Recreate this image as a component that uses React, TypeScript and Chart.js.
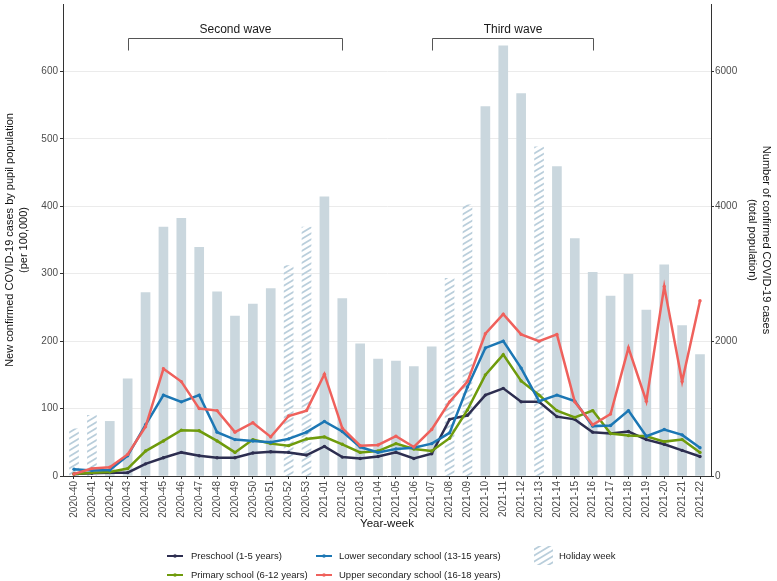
import { useEffect, useRef } from 'react';
import { Chart, registerables } from 'chart.js';
Chart.register(...registerables);

const weeks = [
  '2020-40', '2020-41', '2020-42', '2020-43', '2020-44', '2020-45', '2020-46', '2020-47', '2020-48',
  '2020-49', '2020-50', '2020-51', '2020-52', '2020-53', '2021-01', '2021-02', '2021-03', '2021-04',
  '2021-05', '2021-06', '2021-07', '2021-08', '2021-09', '2021-10', '2021-11', '2021-12', '2021-13',
  '2021-14', '2021-15', '2021-16', '2021-17', '2021-18', '2021-19', '2021-20', '2021-21', '2021-22',
];
const holidayWeeks = ['2020-40', '2020-41', '2020-52', '2020-53', '2021-08', '2021-09', '2021-13'];

const totalCases = [
  700, 900, 810, 1440, 2720, 3690, 3820, 3390, 2730, 2370, 2550, 2780, 3120, 3690, 4140, 2630, 1960, 1735,
  1706, 1622, 1916, 2930, 4020, 5480, 6380, 5670, 4880, 4590, 3520, 3020, 2670, 2990, 2460, 3130, 2230, 1800,
];
const preschool = [
  3, 4, 5, 5, 18, 27, 35, 30, 27, 27, 34, 36, 35, 31, 44, 28, 26, 29,
  35, 26, 33, 84, 90, 120, 130, 110, 110, 88, 84, 65, 63, 66, 54, 47, 38, 29,
];
const primary = [
  3, 5, 6, 11, 37, 52, 68, 67, 52, 35, 54, 48, 45, 55, 58, 47, 35, 37,
  48, 40, 37, 56, 98, 150, 180, 141, 120, 97, 87, 97, 63, 60, 59, 51, 54, 35,
];
const lowerSecondary = [
  10, 8, 9, 30, 76, 120, 110, 120, 65, 54, 52, 50, 55, 65, 81, 66, 43, 35,
  40, 42, 48, 64, 132, 190, 200, 160, 111, 120, 111, 74, 75, 97, 59, 69, 61, 42,
];
const upperSecondary = [
  3, 11, 13, 32, 73, 159, 140, 100, 97, 65, 79, 58, 89, 97, 151, 71, 45, 46,
  59, 43, 69, 110, 140, 211, 240, 210, 200, 210, 110, 76, 92, 190, 111, 281, 140, 260,
];

const seriesLabels = [
  'Preschool (1-5 years)',
  'Primary school (6-12 years)',
  'Lower secondary school (13-15 years)',
  'Upper secondary school (16-18 years)',
];
const seriesColors = ['#2D2E50', '#6F9B0C', '#1C77B4', '#EF615C'];
const holidayLabel = 'Holiday week';

const waveNames = ['Second wave', 'Third wave'];
const waveStart = ['2020-43', '2021-07'];
const waveEnd = ['2021-02', '2021-16'];

const leftTicks = [0, 100, 200, 300, 400, 500, 600];
const rightTicks = [0, 2000, 4000, 6000];

const FONT = "'Liberation Sans', Arial, Helvetica, sans-serif";
const BAR_COLOR = '#CAD7DE';
const HATCH_COLOR = '#B9CEDB';

function makeHatch(): CanvasPattern | string {
  const c = document.createElement('canvas');
  c.width = 10;
  c.height = 6;
  const g = c.getContext('2d');
  if (!g) return HATCH_COLOR;
  g.strokeStyle = HATCH_COLOR;
  g.lineWidth = 1.8;
  g.beginPath();
  for (let k = -1; k <= 1; k++) {
    g.moveTo(-3, 6 + 6 * k + 1.8);
    g.lineTo(13, 6 + 6 * k - 7.8);
  }
  g.stroke();
  const p = g.createPattern(c, 'repeat');
  return p || HATCH_COLOR;
}

const wavePlugin = {
  id: 'waves',
  afterDraw(chart: any) {
    const { ctx } = chart;
    const xs = chart.scales.x;
    const ys = chart.scales.y;
    ctx.save();
    ctx.strokeStyle = '#555';
    ctx.lineWidth = 1;
    ctx.fillStyle = '#1a1a1a';
    ctx.font = `12px ${FONT}`;
    ctx.textAlign = 'center';
    ctx.textBaseline = 'middle';
    const yLine = Math.round(ys.getPixelForValue(650)) + 0.5;
    const yTick = ys.getPixelForValue(631);
    const yText = ys.getPixelForValue(662);
    waveNames.forEach((name, i) => {
      const x1 = Math.round(xs.getPixelForValue(weeks.indexOf(waveStart[i]))) + 0.5;
      const x2 = Math.round(xs.getPixelForValue(weeks.indexOf(waveEnd[i]))) + 0.5;
      ctx.beginPath();
      ctx.moveTo(x1, yTick);
      ctx.lineTo(x1, yLine);
      ctx.lineTo(x2, yLine);
      ctx.lineTo(x2, yTick);
      ctx.stroke();
      ctx.fillText(name, (x1 + x2) / 2, yText);
    });
    ctx.restore();
  },
};

const legendPlugin = {
  id: 'customLegend',
  afterDraw(chart: any) {
    const { ctx } = chart;
    const rows = [556, 575];
    const keyX = [167, 316];
    const textX = [191, 339];
    ctx.save();
    ctx.font = `9.5px ${FONT}`;
    ctx.textBaseline = 'middle';
    ctx.textAlign = 'left';
    seriesLabels.forEach((label, i) => {
      const col = i < 2 ? 0 : 1;
      const row = i % 2;
      const y = rows[row];
      ctx.strokeStyle = seriesColors[i];
      ctx.lineWidth = 2;
      ctx.beginPath();
      ctx.moveTo(keyX[col], y);
      ctx.lineTo(keyX[col] + 16, y);
      ctx.stroke();
      ctx.fillStyle = seriesColors[i];
      ctx.beginPath();
      ctx.arc(keyX[col] + 8, y, 1.8, 0, Math.PI * 2);
      ctx.fill();
      ctx.fillStyle = '#222';
      ctx.fillText(label, textX[col], y);
    });
    ctx.fillStyle = makeHatch();
    ctx.fillRect(534, 546, 19, 19);
    ctx.fillStyle = '#222';
    ctx.fillText(holidayLabel, 559, rows[0]);
    ctx.restore();
  },
};

export default function App() {
  const ref = useRef<HTMLCanvasElement>(null);
  useEffect(() => {
    if (!ref.current) return;
    const hatch = makeHatch();
    const barColors = weeks.map((w) => (holidayWeeks.includes(w) ? hatch : BAR_COLOR));
    const lineSeries = [preschool, primary, lowerSecondary, upperSecondary];
    const chart = new Chart(ref.current, {
      type: 'bar',
      data: {
        datasets: [
          ...lineSeries.map((vals, i) => ({
            type: 'line' as const,
            label: seriesLabels[i],
            data: vals.map((v, j) => ({ x: j, y: v })),
            yAxisID: 'y',
            borderColor: seriesColors[i],
            backgroundColor: seriesColors[i],
            borderWidth: 2.5,
            pointRadius: 1.7,
            pointBorderWidth: 0,
            pointBackgroundColor: seriesColors[i],
            tension: 0,
            order: 4 - i,
          })),
          {
            type: 'bar' as const,
            label: 'Total',
            data: totalCases.map((v, j) => ({ x: j, y: v })),
            yAxisID: 'y2',
            backgroundColor: barColors as any,
            borderWidth: 0,
            barThickness: 9,
            order: 10,
          },
        ],
      },
      options: {
        responsive: false,
        animation: false,
        devicePixelRatio: 1,
        layout: { padding: { left: 0, right: 0, top: 0, bottom: 46 } },
        plugins: { legend: { display: false }, tooltip: { enabled: false } },
        scales: {
          x: {
            type: 'linear',
            offset: false,
            min: -0.615,
            max: 35.615,
            afterBuildTicks: (s: any) => {
              s.ticks = weeks.map((_, i) => ({ value: i }));
            },
            afterFit: (s: any) => {
              s.height = 59;
              s.paddingLeft = 0;
              s.paddingRight = 0;
            },
            ticks: {
              autoSkip: false,
              minRotation: 90,
              maxRotation: 90,
              padding: 2,
              color: '#4D4D4D',
              font: { family: FONT, size: 10 },
              callback: (v: any) => weeks[v as number],
            },
            grid: { offset: false, drawOnChartArea: false, drawTicks: true, tickLength: 3, tickColor: '#333' },
            border: { display: true, color: '#333', width: 1 },
            title: {
              display: true,
              text: 'Year-week',
              color: '#111',
              font: { family: FONT, size: 11.5 },
              padding: { top: 0, bottom: 4.5 },
            },
          },
          y: {
            type: 'linear',
            position: 'left',
            min: 0,
            max: 700,
            afterBuildTicks: (s: any) => {
              s.ticks = leftTicks.map((v) => ({ value: v }));
            },
            afterFit: (s: any) => {
              s.width = 63;
              s.paddingTop = 0;
              s.paddingBottom = 0;
            },
            ticks: { padding: 2, color: '#4D4D4D', font: { family: FONT, size: 10 }, callback: (v: any) => String(v) },
            grid: { color: '#EBEBEB', lineWidth: 1, tickColor: '#333', tickLength: 3 },
            border: { display: true, color: '#333', width: 1 },
            title: {
              display: true,
              text: ['New confirmed COVID-19 cases by pupil population', '(per 100,000)'],
              color: '#111',
              font: { family: FONT, size: 11, lineHeight: '14px' as any },
              padding: { top: 3, bottom: 0 },
            },
          },
          y2: {
            type: 'linear',
            position: 'right',
            min: 0,
            max: 7000,
            afterBuildTicks: (s: any) => {
              s.ticks = rightTicks.map((v) => ({ value: v }));
            },
            afterFit: (s: any) => {
              s.width = 66;
              s.paddingTop = 0;
              s.paddingBottom = 0;
            },
            ticks: { padding: 1, color: '#4D4D4D', font: { family: FONT, size: 10 }, callback: (v: any) => String(v) },
            grid: { drawOnChartArea: false, tickColor: '#333', tickLength: 3 },
            border: { display: true, color: '#333', width: 1 },
            title: {
              display: true,
              text: ['Number of confirmed COVID-19 cases', '(total population)'],
              color: '#111',
              font: { family: FONT, size: 11, lineHeight: '14px' as any },
              padding: { top: 4, bottom: 0 },
            },
          },
        },
      },
      plugins: [wavePlugin, legendPlugin],
    } as any);
    return () => chart.destroy();
  }, []);
  return (
    <div style={{ position: 'absolute', left: 0, top: 0, width: 777, height: 581, background: '#fff' }}>
      <canvas ref={ref} width={777} height={581} style={{ display: 'block', width: 777, height: 581 }} />
    </div>
  );
}
